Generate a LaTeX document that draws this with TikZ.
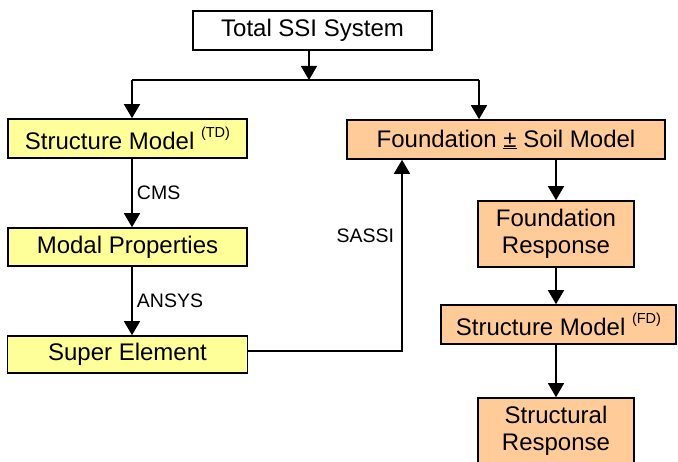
\documentclass[tikz,border=0pt]{standalone}
\usepackage{fontspec}
\setmainfont{Liberation Sans}
\usepackage{xcolor}
\usepackage{tikz}
\usetikzlibrary{arrows.meta}

\definecolor{tdyellow}{HTML}{FFFF99}
\definecolor{fdorange}{HTML}{FFCC99}

\begin{document}
\begin{tikzpicture}[x=1pt, y=-1pt,
  box/.style={draw, line width=1.6pt, align=center, inner sep=1pt,
    font=\fontsize{24}{27.5}\selectfont},
  lbl/.style={font=\fontsize{19.5}{22}\selectfont},
  arr/.style={line width=1.3pt, -{Triangle[length=14pt, width=16pt]}}]
\useasboundingbox (0,0) rectangle (678,462);

% ---------- top ----------
\node[box, minimum width=239pt, minimum height=39pt] (total) at (312.5,30.5) {Total SSI System};
\coordinate (split) at (309,80);
\coordinate (lft) at (132,80);
\coordinate (rgt) at (479,80);

% ---------- time domain column (left) ----------
\node[box, fill=tdyellow, minimum width=239pt, minimum height=39pt] (smtd) at (127.5,138.5)
  {Structure Model \raisebox{0.5em}{\fontsize{14.5}{15}\selectfont (TD)}};
\node[box, fill=tdyellow, minimum width=239pt, minimum height=38pt] (modal) at (127.5,247) {Modal Properties};
\node[box, fill=tdyellow, minimum width=240pt, minimum height=37pt] (super) at (127.5,354.5) {Super Element};

% ---------- frequency domain column (right) ----------
\node[box, fill=fdorange, minimum width=318pt, minimum height=39pt] (fnd) at (506,139.5)
  {Foundation \underline{±} Soil Model};
\node[box, fill=fdorange, minimum width=156pt, minimum height=66pt] (fresp) at (556,234)
  {Foundation\\Response};
\node[box, fill=fdorange, minimum width=235pt, minimum height=39pt] (smfd) at (558.5,324.5)
  {Structure Model \raisebox{0.5em}{\fontsize{14.5}{15}\selectfont (FD)}};
\node[box, fill=fdorange, minimum width=156pt, minimum height=66pt] (sresp) at (556,431)
  {Structural\\Response};

% ---------- connectors ----------
\draw[arr] (total.south -| split) -- (split);
\draw[line width=1.3pt] (lft) -- (rgt);
\draw[arr] (lft) -- (lft |- smtd.north);
\draw[arr] (rgt) -- (rgt |- fnd.north);
\draw[arr] (smtd.south -| lft) -- node[lbl, right, xshift=1pt] {CMS} (modal.north -| lft);
\draw[arr] (modal.south -| lft) -- node[lbl, right, xshift=1pt] {ANSYS} (super.north -| lft);
\draw[arr] (super.east |- 0,351) -| node[lbl, pos=0.8, left, xshift=-4pt] {SASSI} ([xshift=-104pt]fnd.south);
\draw[arr] (fnd.south -| fresp) -- (fresp);
\draw[arr] (fresp) -- (smfd.north -| fresp);
\draw[arr] (smfd.south -| fresp) -- (sresp);
\end{tikzpicture}
\end{document}
